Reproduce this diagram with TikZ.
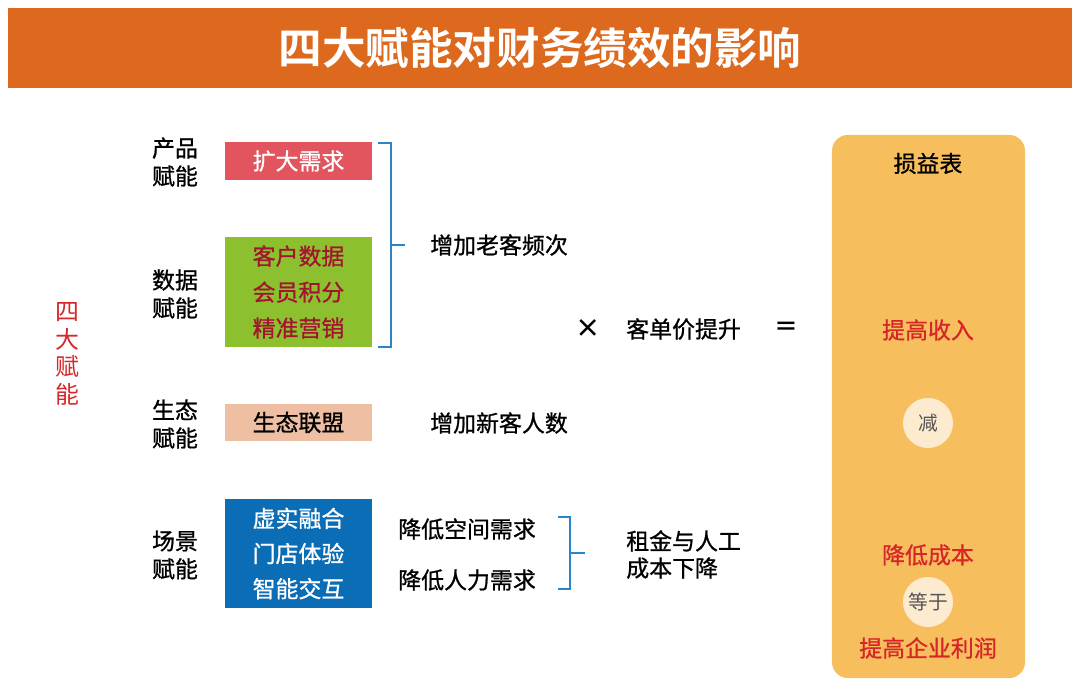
\documentclass[tikz,border=0pt]{standalone}
\usepackage{fontspec}
\setmainfont{Noto Sans CJK SC}[BoldFont={Noto Sans CJK SC Bold}]
\newfontfamily\medfont{Noto Sans CJK SC}[FakeBold=0.9]
\usetikzlibrary{positioning, calc}
\definecolor{titleorange}{HTML}{DC691D}
\definecolor{boxred}{HTML}{E2555F}
\definecolor{boxgreen}{HTML}{8DC02F}
\definecolor{boxpeach}{HTML}{EEBFA2}
\definecolor{boxblue}{HTML}{0A6DB5}
\definecolor{darkred}{HTML}{A3152F}
\definecolor{bracketblue}{HTML}{2A86C9}
\definecolor{panelyellow}{HTML}{F7BE5E}
\definecolor{textred}{HTML}{D7262A}
\definecolor{cream}{HTML}{FDEBCF}
\definecolor{opgrey}{HTML}{555555}

\begin{document}
\begin{tikzpicture}[
    x=0.025cm, y=-0.025cm,
    txt/.style={inner sep=0pt, font=\fontsize{16.3pt}{20pt}\medfont},
    side/.style={txt, align=center, font=\fontsize{16.3pt}{19.9pt}\medfont},
    tagbox/.style={rectangle, inner sep=0pt, minimum width=3.675cm, align=center, font=\fontsize{16.3pt}{25.6pt}\medfont},
    brace/.style={draw=bracketblue, line width=1.4pt},
    opcircle/.style={circle, fill=cream, minimum size=1.25cm, inner sep=0pt, text=opgrey, font=\fontsize{14pt}{16pt}\selectfont},
]
\useasboundingbox (0,0) rectangle (1080,694);

% title bar
\fill[titleorange] (8,8) rectangle (1072,88);
\node [inner sep=0pt, text=white, font=\fontsize{31pt}{34pt}\selectfont\bfseries] (title) at (540,48) {四大赋能对财务绩效的影响};

% left column
\node [txt, align=center, text=textred, font=\fontsize{17pt}{19.6pt}\selectfont] (four) at (67,354) {四\\大\\赋\\能};

\node [side] (prod) at (175,162) {产品\\赋能};
\node [side] (data) at (175,294) {数据\\赋能};
\node [side] (eco) at (175,424) {生态\\赋能};
\node [side] (scene) at (175,555) {场景\\赋能};

\node [tagbox, fill=boxred, text=white, minimum height=0.95cm] (demand) at (298.5,161) {扩大需求};
\node [tagbox, fill=boxgreen, text=darkred, minimum height=2.75cm] (databox) at (298.5,292) {客户数据\\会员积分\\精准营销};
\node [tagbox, fill=boxpeach, minimum height=0.925cm] (ally) at (298.5,422.5) {生态联盟};
\node [tagbox, fill=boxblue, text=white, minimum height=2.725cm, font=\fontsize{16.3pt}{25pt}\medfont] (scenebox) at (298.5,553.5) {虚实融合\\门店体验\\智能交互};

% middle column
\node [txt, anchor=west] (oldcust) at (430,245) {增加老客频次};
\node [txt, anchor=west] (newcust) at (430,423) {增加新客人数};
\node [txt, anchor=west] (space) at (398,529) {降低空间需求};
\node [txt, anchor=west] (labour) at (398,580) {降低人力需求};

\node [txt, font=\fontsize{18pt}{20pt}\bfseries] (times) at (588,329) {×};
\node [txt, anchor=west] (price) at (626,329) {客单价提升};
\node [txt, font=\fontsize{17pt}{20pt}\bfseries] (equals) at (786,329) {＝};
\node [txt, anchor=west, align=left, font=\fontsize{16.3pt}{19.2pt}\medfont] (rent) at (626,554.5) {租金与人工\\成本下降};

% brackets
\coordinate (b1t) at (378,143);
\coordinate (b1b) at (378,347);
\draw [brace] (b1t) -- ++(13,0) |- (b1b);
\draw [brace] ($(b1t)!0.5!(b1b)+(13,0)$) -- ++(14,0);

\coordinate (b2t) at (558,517);
\coordinate (b2b) at (558,589);
\draw [brace] (b2t) -- ++(12,0) |- (b2b);
\draw [brace] ($(b2t)!0.5!(b2b)+(12,0)$) -- ++(15,0);

% income statement panel
\node [rectangle, fill=panelyellow, rounded corners=0.4cm, minimum width=4.825cm, minimum height=13.575cm] (panel) at (928.5,406.5) {};
\node [txt] (pl) at (928,163.5) {损益表};
\node [txt, text=textred] (income) at (928,330) {提高收入};
\node [opcircle] (minus) at (928,423) {减};
\node [txt, text=textred] (cost) at (928,555) {降低成本};
\node [opcircle] (equal) at (928,602) {等于};
\node [txt, text=textred] (profit) at (928,648) {提高企业利润};
\end{tikzpicture}
\end{document}
